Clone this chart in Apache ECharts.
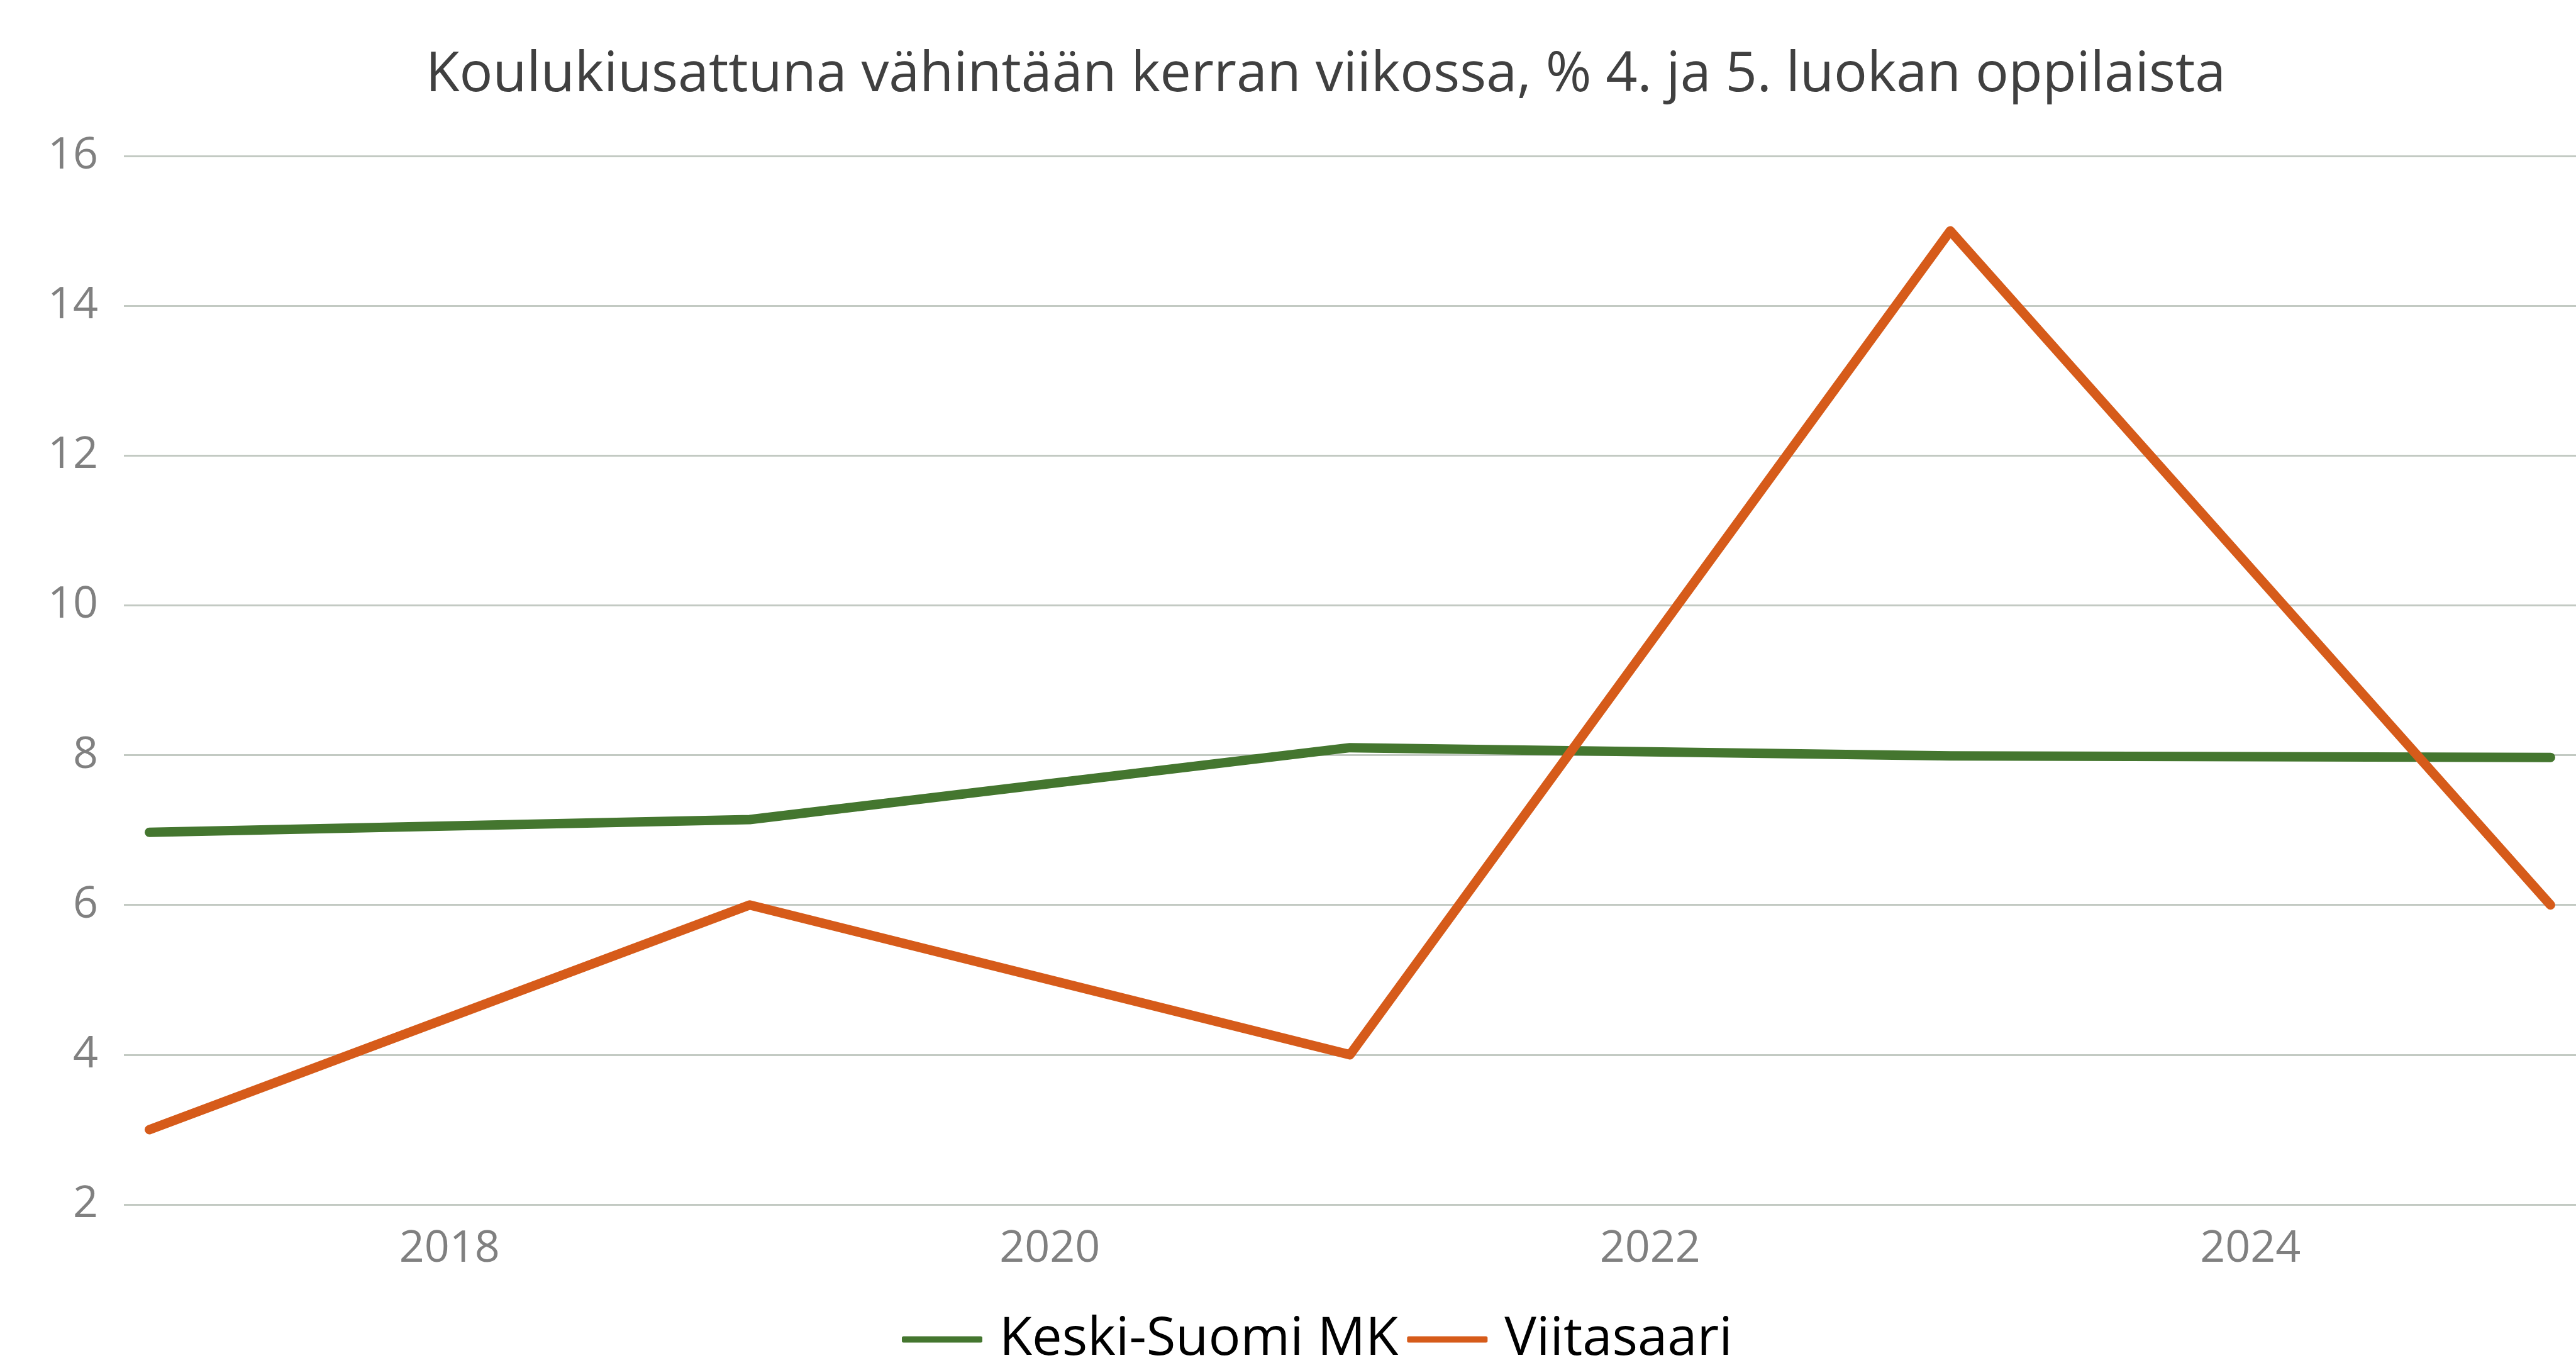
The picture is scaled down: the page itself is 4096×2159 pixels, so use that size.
<!DOCTYPE html>
<html>
<head>
<meta charset="utf-8">
<title>Koulukiusattuna</title>
<script src="https://cdn.jsdelivr.net/npm/echarts@6/dist/echarts.min.js"></script>
<style>
  html, body { margin: 0; padding: 0; background: #fff; }
  #chart { width: 4096px; height: 2159px; }
</style>
</head>
<body>
<div id="chart"></div>
<script>
// data
const years = [2017, 2019, 2021, 2023, 2025];
const keskiSuomi = [6.97, 7.14, 8.1, 7.99, 7.97];
const viitasaari = [3, 6, 4, 15, 6];
const xLabels = [2018, 2020, 2022, 2024];
const seriesNames = ['Keski-Suomi MK', 'Viitasaari'];

const font = '"Open Sans", "Noto Sans", sans-serif';
const chart = echarts.init(document.getElementById('chart'));

function pairs(vals) {
  return years.map((y, i) => [y, vals[i]]);
}

let option = {
  animation: false,
  backgroundColor: '#fff',
  color: ['#44762F', '#D65B1A'],
  title: {
    text: 'Koulukiusattuna vähintään kerran viikossa, % 4. ja 5. luokan oppilaista',
    left: 2103,
    top: 71,
    textAlign: 'center',
    textStyle: {
      fontFamily: font,
      fontWeight: 'normal',
      fontSize: 88,
      color: '#404040'
    }
  },
  grid: {
    left: 197,
    right: 0,
    top: 248,
    bottom: 244,
    containLabel: false
  },
  legend: {
    data: seriesNames,
    left: 1429,
    top: 2082,
    icon: 'roundRect',
    itemWidth: 128,
    itemHeight: 10,
    itemGap: 14,
    textStyle: {
      fontFamily: font,
      fontSize: 85,
      color: '#000',
      padding: [0, 0, 0, 22]
    }
  },
  xAxis: {
    type: 'value',
    min: 2016.915,
    max: 2025.085,
    axisLine: { show: false },
    axisTick: { show: false },
    splitLine: { show: false },
    axisLabel: {
      customValues: xLabels,
      margin: 36,
      fontFamily: font,
      fontSize: 70,
      color: '#808080',
      formatter: v => String(v)
    }
  },
  yAxis: {
    type: 'value',
    min: 2,
    max: 16,
    interval: 2,
    axisLine: { show: false },
    axisTick: { show: false },
    axisLabel: {
      margin: 41,
      fontFamily: font,
      fontSize: 70,
      color: '#808080'
    },
    splitLine: {
      lineStyle: { color: '#C3CAC3', width: 3 }
    }
  },
  series: [
    {
      name: seriesNames[0],
      type: 'line',
      data: pairs(keskiSuomi),
      showSymbol: false,
      lineStyle: { width: 15, cap: 'round', join: 'round' }
    },
    {
      name: seriesNames[1],
      type: 'line',
      data: pairs(viitasaari),
      showSymbol: false,
      lineStyle: { width: 15, cap: 'round', join: 'round' }
    }
  ]
};

chart.setOption(option);
</script>
</body>
</html>
